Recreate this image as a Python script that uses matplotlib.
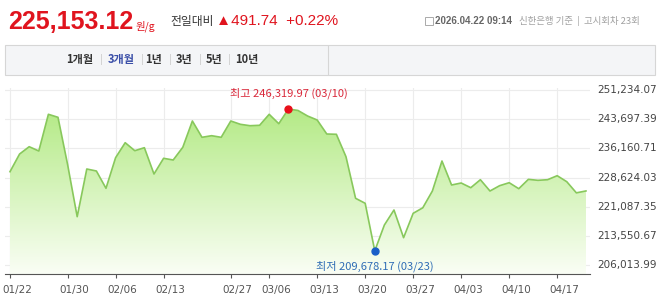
import numpy as np
import matplotlib
matplotlib.use("Agg")
import matplotlib.pyplot as plt
from matplotlib.patches import Rectangle, PathPatch
from matplotlib.colors import LinearSegmentedColormap
from matplotlib.transforms import ScaledTranslation

# trading days (Korean market, 2026)
dates = [
    "01/22", "01/23", "01/26", "01/27", "01/28", "01/29", "01/30",
    "02/02", "02/03", "02/04", "02/05", "02/06", "02/09", "02/10", "02/11", "02/12", "02/13",
    "02/19", "02/20", "02/23", "02/24", "02/25", "02/26", "02/27",
    "03/03", "03/04", "03/05", "03/06", "03/09", "03/10", "03/11", "03/12", "03/13",
    "03/16", "03/17", "03/18", "03/19", "03/20", "03/23", "03/24", "03/25", "03/26", "03/27",
    "03/30", "03/31", "04/01", "04/02", "04/03", "04/06", "04/07", "04/08", "04/09", "04/10",
    "04/13", "04/14", "04/15", "04/16", "04/17", "04/20", "04/21", "04/22",
]
prices = [
    230125, 234698, 236585, 235473, 244956, 244180, 232000,
    218499, 230823, 230307, 225836, 233743, 237618, 235551, 236327, 229531, 233587,
    233148, 236430, 243225, 239013, 239427, 239013, 243225,
    242372, 242010, 242113, 244956, 242527, 246319.97, 245950, 244516, 243483,
    239866, 239789, 234001, 223253, 221961, 209678.17, 216354, 220230, 213073, 219377,
    220800, 225139, 232890, 226689, 227206, 225991, 228058, 225139, 226508, 227283,
    225733, 228150, 227897, 228058, 229092, 227542, 224661.38, 225153.12,
]
tick_dates = ["01/22", "01/30", "02/06", "02/13", "02/27", "03/06", "03/13",
              "03/20", "03/27", "04/03", "04/10", "04/17"]
y_ticks = [206013.99, 213550.67, 221087.35, 228624.03, 236160.71, 243697.39, 251234.07]

W, H = 658, 300
fig = plt.figure(figsize=(W / 100, H / 100), dpi=100)
fig.patch.set_facecolor("white")

def px(x, y):  # 픽셀 -> figure 좌표
    return x / W, 1 - y / H

KR = ["Noto Sans CJK KR", "DejaVu Sans"]

# ---- header ----
fig.text(*px(8, 29), "225,153.12", fontsize=18, fontweight="bold", color="#e0141e",
         family="Liberation Sans", va="baseline")
fig.text(*px(136, 29), "원/g", fontsize=7.5, color="#e0141e", family=KR, va="baseline")
fig.text(*px(170, 21), "전일대비", fontsize=8.5, color="#333333", family=KR, va="center")
fig.text(*px(216, 21), "▲491.74  +0.22%", fontsize=11, color="#e0141e",
         family=["Liberation Sans", "DejaVu Sans"], va="center")
fig.patches.append(Rectangle(px(425, 25), 8 / W, 8 / H, transform=fig.transFigure,
                             facecolor="none", edgecolor="#aaaaaa", lw=0.7))
fig.text(*px(435, 21), "2026.04.22 09:14", fontsize=7, color="#666666",
         family="Liberation Sans", fontweight="bold", va="center")
fig.text(*px(519, 21), "신한은행 기준  |  고시회차 23회", fontsize=6.8, color="#a0a0a0",
         family=KR, va="center")

# ---- tab bar ----
fig.patches.append(Rectangle(px(5, 75), 650 / W, 30 / H, transform=fig.transFigure,
                             facecolor="#f4f5f7", edgecolor="#d6d6d6", lw=0.8))
fig.lines.append(plt.Line2D([328 / W, 328 / W], [1 - 46 / H, 1 - 74 / H],
                            transform=fig.transFigure, color="#d6d6d6", lw=0.8))
tabs = ["1개월", "3개월", "1년", "3년", "5년", "10년"]
tab_x = [80, 121, 154, 184, 214, 247]
for t, xx in zip(tabs, tab_x):
    fig.text(*px(xx, 59), t, fontsize=8, fontweight="bold", family=KR,
             color="#3b4fa8" if t == "3개월" else "#333333", ha="center", va="center")
for xx in [101, 142, 170, 200, 229]:
    fig.lines.append(plt.Line2D([xx / W, xx / W], [1 - 54 / H, 1 - 64 / H],
                                transform=fig.transFigure, color="#d3d3d3", lw=0.7))

# ---- chart ----
ax = fig.add_axes([5 / W, 26 / H, 585 / W, 186 / H])
x = np.arange(len(prices))
ax.set_xlim(-0.52, 60.42)
ax.set_ylim(203694, 251751)

line_c = "#88c85c"
poly = ax.fill_between(x, prices, 203694, color="none", lw=0)
cmap = LinearSegmentedColormap.from_list("g", ["#fafef5", "#b4ea86"])
grad = np.linspace(0, 1, 256).reshape(-1, 1)
im = ax.imshow(grad, cmap=cmap, origin="lower", aspect="auto",
               extent=[-0.52, 60.42, 203694, max(prices)], zorder=1)
clip = PathPatch(poly.get_paths()[0], transform=ax.transData, facecolor="none", edgecolor="none")
ax.add_patch(clip)
im.set_clip_path(clip)
ax.plot(x, prices, color=line_c, lw=1.2, zorder=3)

# grid
tick_idx = [dates.index(d) for d in tick_dates]
for t in tick_idx:
    ax.axvline(t, color="#ececec", lw=0.8, zorder=0)
for yv in y_ticks:
    ax.axhline(yv, color="#ececec", lw=0.8, zorder=0)

for s in ["top", "right", "left"]:
    ax.spines[s].set_visible(False)
ax.spines["bottom"].set_color("#555555")
ax.spines["bottom"].set_linewidth(0.8)
ax.set_yticks([])
ax.set_xticks(tick_idx)
ax.set_xticklabels(tick_dates, fontsize=7.5, color="#555555", family="DejaVu Sans")
ax.tick_params(axis="x", length=3, color="#555555", pad=5)
for lab in ax.get_xticklabels():
    lab.set_transform(lab.get_transform() + ScaledTranslation(0.07, 0, fig.dpi_scale_trans))

# right-hand value labels
for yv in y_ticks:
    ax.annotate(f"{yv:,.2f}", xy=(1, yv), xycoords=("axes fraction", "data"),
                xytext=(5, 0), textcoords="offset points", fontsize=7.5, color="#444444",
                va="center", ha="left", family="DejaVu Sans", annotation_clip=False)

# high / low markers
hi = int(np.argmax(prices))
lo = int(np.argmin(prices))
ax.plot(hi, prices[hi], "o", color="#e8101a", ms=5, zorder=4)
ax.plot(lo, prices[lo], "o", color="#1a5fc8", ms=5, zorder=4)
ax.annotate(f"최고 {prices[hi]:,.2f} ({dates[hi]})", xy=(hi, prices[hi]), xytext=(0, 11),
            textcoords="offset points", ha="center", va="center", fontsize=8,
            color="#d9283a", family=KR, annotation_clip=False)
ax.annotate(f"최저 {prices[lo]:,.2f} ({dates[lo]})", xy=(lo, prices[lo]), xytext=(0, -11),
            textcoords="offset points", ha="center", va="center", fontsize=8,
            color="#2f6db5", family=KR, annotation_clip=False)

fig.savefig("out.png", dpi=100)
